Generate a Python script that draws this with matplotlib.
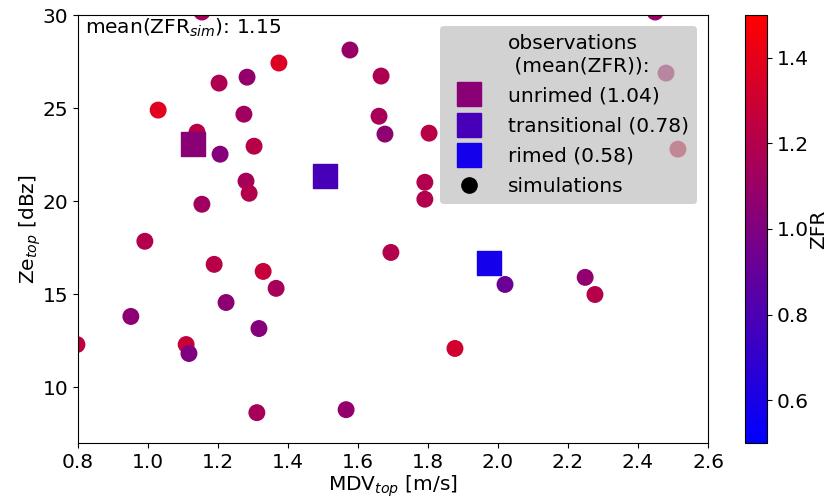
import numpy as np
import matplotlib
matplotlib.use("Agg")
import matplotlib.pyplot as plt
from matplotlib.colors import LinearSegmentedColormap, Normalize
from matplotlib.lines import Line2D

# Simulated cases: mean Doppler velocity and reflectivity at cloud top, with ZFR
sim_mdv = [1.029, 1.374, 1.203, 1.283, 1.274, 1.577, 1.666, 1.660, 1.677, 1.140,
           1.206, 1.303, 1.280, 1.289, 1.154, 1.803, 1.791, 1.791, 2.480, 2.514,
           0.991, 1.189, 1.329, 1.366, 1.223, 0.951, 1.317, 1.109, 1.117, 0.797,
           1.311, 1.566, 1.694, 2.020, 2.249, 2.277, 1.877, 1.154, 2.449]
sim_ze = [24.89, 27.42, 26.34, 26.66, 24.67, 28.12, 26.72, 24.56, 23.60, 23.70,
          22.52, 22.95, 21.07, 20.42, 19.83, 23.65, 21.01, 20.10, 26.88, 22.79,
          17.84, 16.60, 16.22, 15.31, 14.55, 13.80, 13.15, 12.29, 11.81, 12.29,
          8.63, 8.79, 17.24, 15.52, 15.90, 14.98, 12.08, 30.16, 30.16]
sim_zfr = [1.38, 1.36, 1.18, 1.08, 1.13, 1.10, 1.18, 1.16, 1.06, 1.22,
           1.02, 1.22, 1.15, 1.20, 1.13, 1.22, 1.20, 1.20, 1.15, 1.30,
           1.20, 1.22, 1.27, 1.15, 1.05, 1.05, 1.02, 1.28, 1.00, 1.25,
           1.15, 1.08, 1.20, 0.92, 1.07, 1.21, 1.32, 1.15, 1.10]

# Observed class means
obs_names = ["unrimed", "transitional", "rimed"]
obs_mdv = [1.129, 1.506, 1.974]
obs_ze = [23.06, 21.33, 16.65]
obs_zfr = [1.04, 0.78, 0.58]

mean_zfr_sim = 1.15

plt.rcParams["font.family"] = "DejaVu Sans"
plt.rcParams["font.size"] = 14.5

cmap = LinearSegmentedColormap.from_list("bluered", ["blue", "red"])
norm = Normalize(vmin=0.5, vmax=1.5)

fig = plt.figure(figsize=(8.28, 4.97), dpi=100)
ax = fig.add_axes([0.0942, 0.1087, 0.7609, 0.8611])
cax = fig.add_axes([0.8998, 0.1087, 0.0266, 0.8611])

sc = ax.scatter(sim_mdv, sim_ze, c=sim_zfr, cmap=cmap, norm=norm, s=125,
                marker="o", edgecolors="face", zorder=2)
for name, x, y, z in zip(obs_names, obs_mdv, obs_ze, obs_zfr):
    ax.scatter([x], [y], c=[z], cmap=cmap, norm=norm, s=300, marker="s", zorder=3)

ax.set_xlim(0.8, 2.6)
ax.set_ylim(7, 30)
ax.set_xticks(np.arange(0.8, 2.61, 0.2))
ax.set_yticks([10, 15, 20, 25, 30])
ax.set_xlabel(r"MDV$_{top}$ [m/s]", labelpad=1)
ax.set_ylabel(r"Ze$_{top}$ [dBz]", labelpad=0)

ax.text(0.011, 0.997, r"mean(ZFR$_{sim}$): %.2f" % mean_zfr_sim,
        transform=ax.transAxes, ha="left", va="top")

# Header row without a symbol, then one row per observed class, then simulations
handles = [Line2D([], [], linestyle="none")]
labels = ["observations\n (mean(ZFR)):"]
handles += [Line2D([], [], marker="s", linestyle="none", markersize=17,
                   color=cmap(norm(z))) for z in obs_zfr]
labels += ["%s (%.2f)" % (n, z) for n, z in zip(obs_names, obs_zfr)]
handles.append(Line2D([], [], marker="o", linestyle="none", markersize=11,
                      color="black"))
labels.append("simulations")
leg = ax.legend(handles, labels, loc="upper right",
                facecolor="silver", framealpha=0.7, edgecolor="none",
                handlelength=2.0, handletextpad=0.95, labelspacing=0.56,
                borderaxespad=0.55)
leg.set_zorder(5)

cb = fig.colorbar(sc, cax=cax)
cb.set_ticks([0.6, 0.8, 1.0, 1.2, 1.4])
cb.set_label("ZFR", labelpad=0.3)

fig.savefig("out.png", dpi=100)
